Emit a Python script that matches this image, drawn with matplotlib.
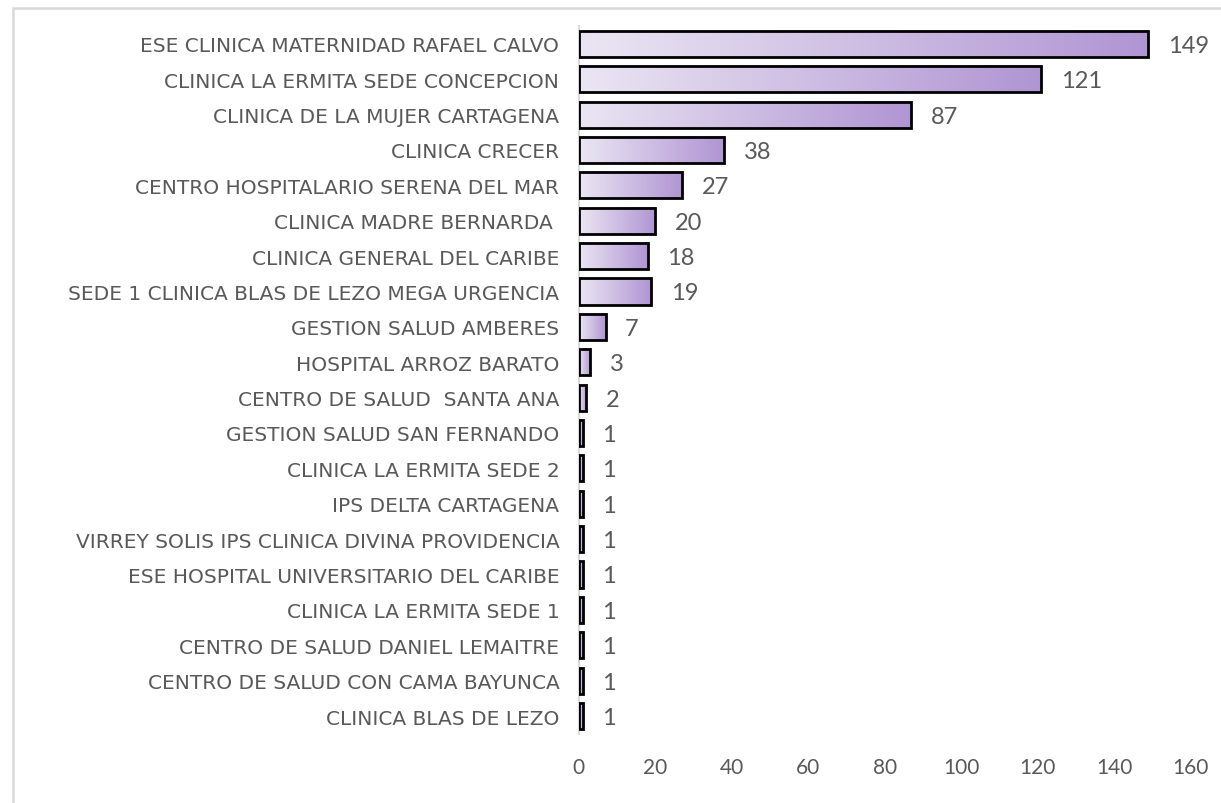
import numpy as np
import matplotlib.pyplot as plt
from matplotlib.colors import LinearSegmentedColormap
from matplotlib.patches import Rectangle

clinics = [
    "ESE CLINICA MATERNIDAD RAFAEL CALVO",
    "CLINICA LA ERMITA SEDE CONCEPCION",
    "CLINICA DE LA MUJER CARTAGENA",
    "CLINICA CRECER",
    "CENTRO HOSPITALARIO SERENA DEL MAR",
    "CLINICA MADRE BERNARDA ",
    "CLINICA GENERAL DEL CARIBE",
    "SEDE 1 CLINICA BLAS DE LEZO MEGA URGENCIA",
    "GESTION SALUD AMBERES",
    "HOSPITAL ARROZ BARATO",
    "CENTRO DE SALUD  SANTA ANA",
    "GESTION SALUD SAN FERNANDO",
    "CLINICA LA ERMITA SEDE 2",
    "IPS DELTA CARTAGENA",
    "VIRREY SOLIS IPS CLINICA DIVINA PROVIDENCIA",
    "ESE HOSPITAL UNIVERSITARIO DEL CARIBE",
    "CLINICA LA ERMITA SEDE 1",
    "CENTRO DE SALUD DANIEL LEMAITRE",
    "CENTRO DE SALUD CON CAMA BAYUNCA",
    "CLINICA BLAS DE LEZO",
]
counts = [149, 121, 87, 38, 27, 20, 18, 19, 7, 3, 2, 1, 1, 1, 1, 1, 1, 1, 1, 1]
x_ticks = [0, 20, 40, 60, 80, 100, 120, 140, 160]

TEXT = "#595959"
grad = LinearSegmentedColormap.from_list("purp", ["#ebe6f3", "#b095d3"])

fig = plt.figure(figsize=(12.21, 8.04), dpi=100)
ax = fig.add_axes([0.474, 0.0862, 0.501, 0.880])

ypos = np.arange(len(counts))
h = 0.74
g = np.linspace(0, 1, 256).reshape(1, -1)
for y, v in zip(ypos, counts):
    ax.imshow(g, cmap=grad, extent=[0, v, y + h / 2, y - h / 2], aspect="auto", zorder=2)
    ax.add_patch(Rectangle((0, y - h / 2), v, h, facecolor="none", edgecolor="black", lw=2, zorder=3))
    ax.annotate(str(v), (v, y), xytext=(14, -1), textcoords="offset points",
                va="center", ha="left", fontsize=17, color=TEXT, family="Lato")

ax.set_xlim(0, 160)
ax.set_ylim(len(counts) - 0.5, -0.5)
ax.set_xticks(x_ticks)
ax.set_xticklabels([str(t) for t in x_ticks], fontsize=15, color=TEXT, family="Lato")
ax.set_yticks(ypos)
ax.set_yticklabels(clinics, fontsize=14.5, color=TEXT, family="DejaVu Sans")
ax.tick_params(axis="both", length=0)
ax.tick_params(axis="y", pad=14)
ax.tick_params(axis="x", pad=17)
for s in ["top", "right", "bottom"]:
    ax.spines[s].set_visible(False)
ax.spines["left"].set_color("#d9d9d9")
ax.spines["left"].set_linewidth(1.5)

# light grey chart-area frame, clipped on the right and bottom like the source
fig.patches.append(Rectangle((12.5 / 1221, -0.05), 1.2, 1.05 - 8.5 / 804, transform=fig.transFigure,
                             facecolor="none", edgecolor="#d9d9d9", lw=1.8))

fig.savefig("out.png", dpi=100)
